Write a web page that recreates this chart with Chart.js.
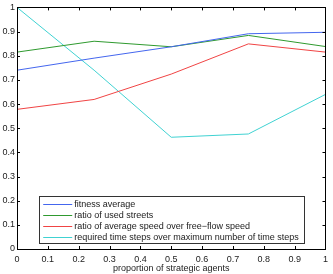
<!DOCTYPE html>
<html><head><meta charset="utf-8">
<script src="https://cdn.jsdelivr.net/npm/chart.js@4/dist/chart.umd.min.js"></script>
<style>html,body{margin:0;padding:0;background:#fff}#wrap{width:333px;height:274px}</style>
</head><body><div id="wrap"><canvas id="c" width="333" height="274"></canvas></div>
<script>
const xValues = [0, 0.25, 0.5, 0.75, 1];
const fitnessAverage = [0.74, 0.79, 0.837, 0.891, 0.897];
const usedStreets = [0.815, 0.86, 0.837, 0.884, 0.838];
const speedRatio = [0.578, 0.619, 0.724, 0.849, 0.815];
const timeSteps = [1.0, 0.74, 0.4625, 0.476, 0.64];
const seriesLabels = ['fitness average','ratio of used streets','ratio of average speed over free\u2212flow speed','required time steps over maximum number of time steps'];
const seriesColors = ['#4466ee','#2f9a2f','#f04444','#40d2d2'];
const xTicks = [0,0.1,0.2,0.3,0.4,0.5,0.6,0.7,0.8,0.9,1];
const yTicks = [0,0.1,0.2,0.3,0.4,0.5,0.6,0.7,0.8,0.9,1];
const xTitle = 'proportion of strategic agents';

const allSeries = [fitnessAverage, usedStreets, speedRatio, timeSteps];
const FONT = {family: 'Liberation Sans, Arial, sans-serif', size: 9};

const frame = {
  id: 'frame',
  afterDraw(chart) {
    const ctx = chart.ctx, a = chart.chartArea, xs = chart.scales.x, ys = chart.scales.y;
    ctx.save();
    ctx.strokeStyle = '#000'; ctx.lineWidth = 1;
    ctx.strokeRect(Math.round(a.left)+0.5, Math.round(a.top)+0.5, Math.round(a.right-a.left), Math.round(a.bottom-a.top));
    ctx.beginPath();
    const L = 3;
    xTicks.forEach(v => { const p = Math.round(xs.getPixelForValue(v))+0.5;
      ctx.moveTo(p, a.bottom); ctx.lineTo(p, a.bottom-L); ctx.moveTo(p, a.top); ctx.lineTo(p, a.top+L); });
    yTicks.forEach(v => { const p = Math.round(ys.getPixelForValue(v))+0.5;
      ctx.moveTo(a.left, p); ctx.lineTo(a.left+L, p); ctx.moveTo(a.right, p); ctx.lineTo(a.right-L, p); });
    ctx.stroke();
    // legend box
    const bx = xs.getPixelForValue(0.072), bx2 = xs.getPixelForValue(0.93);
    const by = ys.getPixelForValue(0.22), by2 = ys.getPixelForValue(0.026);
    ctx.fillStyle = '#fff';
    ctx.fillRect(bx, by, bx2-bx, by2-by);
    ctx.strokeStyle = '#333';
    ctx.strokeRect(Math.round(bx)+0.5, Math.round(by)+0.5, Math.round(bx2-bx), Math.round(by2-by));
    ctx.font = FONT.size + 'px ' + FONT.family; ctx.textBaseline = 'middle'; ctx.fillStyle = '#222';
    const rowH = 11;
    chart.data.datasets.forEach((ds, i) => {
      const yy = Math.round(by + 7.7 + rowH*i) + 0.5;
      ctx.strokeStyle = ds.borderColor; ctx.beginPath();
      ctx.moveTo(bx+4, yy); ctx.lineTo(bx+33, yy); ctx.stroke();
      ctx.fillText(ds.label, bx+35, yy);
    });
    ctx.restore();
  }
};

new Chart(document.getElementById('c'), {
  type: 'line',
  data: {
    datasets: allSeries.map((s, i) => ({
      label: seriesLabels[i],
      data: s.map((v, j) => ({x: xValues[j], y: v})),
      borderColor: seriesColors[i], borderWidth: 1, pointRadius: 0, tension: 0, fill: false
    }))
  },
  options: {
    responsive: false, animation: false,
    layout: {padding: {top: 4, right: 5, left: 0, bottom: 0}},
    plugins: {legend: {display: false}, tooltip: {enabled: false}},
    scales: {
      x: {
        type: 'linear', min: 0, max: 1,
        afterBuildTicks: s => { s.ticks = xTicks.map(v => ({value: v})); },
        afterFit: s => { s.height = 25; },
        grid: {display: false, drawTicks: false, tickLength: 0}, border: {display: false},
        ticks: {font: FONT, color: '#222', padding: 5, maxRotation: 0, callback: v => String(v)},
        title: {display: true, text: xTitle, font: FONT, color: '#222', padding: {top: 0, bottom: 0}}
      },
      y: {
        min: 0, max: 1,
        afterBuildTicks: s => { s.ticks = yTicks.map(v => ({value: v})); },
        afterFit: s => { s.width = 17; },
        grid: {display: false, drawTicks: false, tickLength: 0}, border: {display: false},
        ticks: {font: FONT, color: '#222', padding: 2, callback: v => String(v)}
      }
    }
  },
  plugins: [frame]
});
</script>
</body></html>
